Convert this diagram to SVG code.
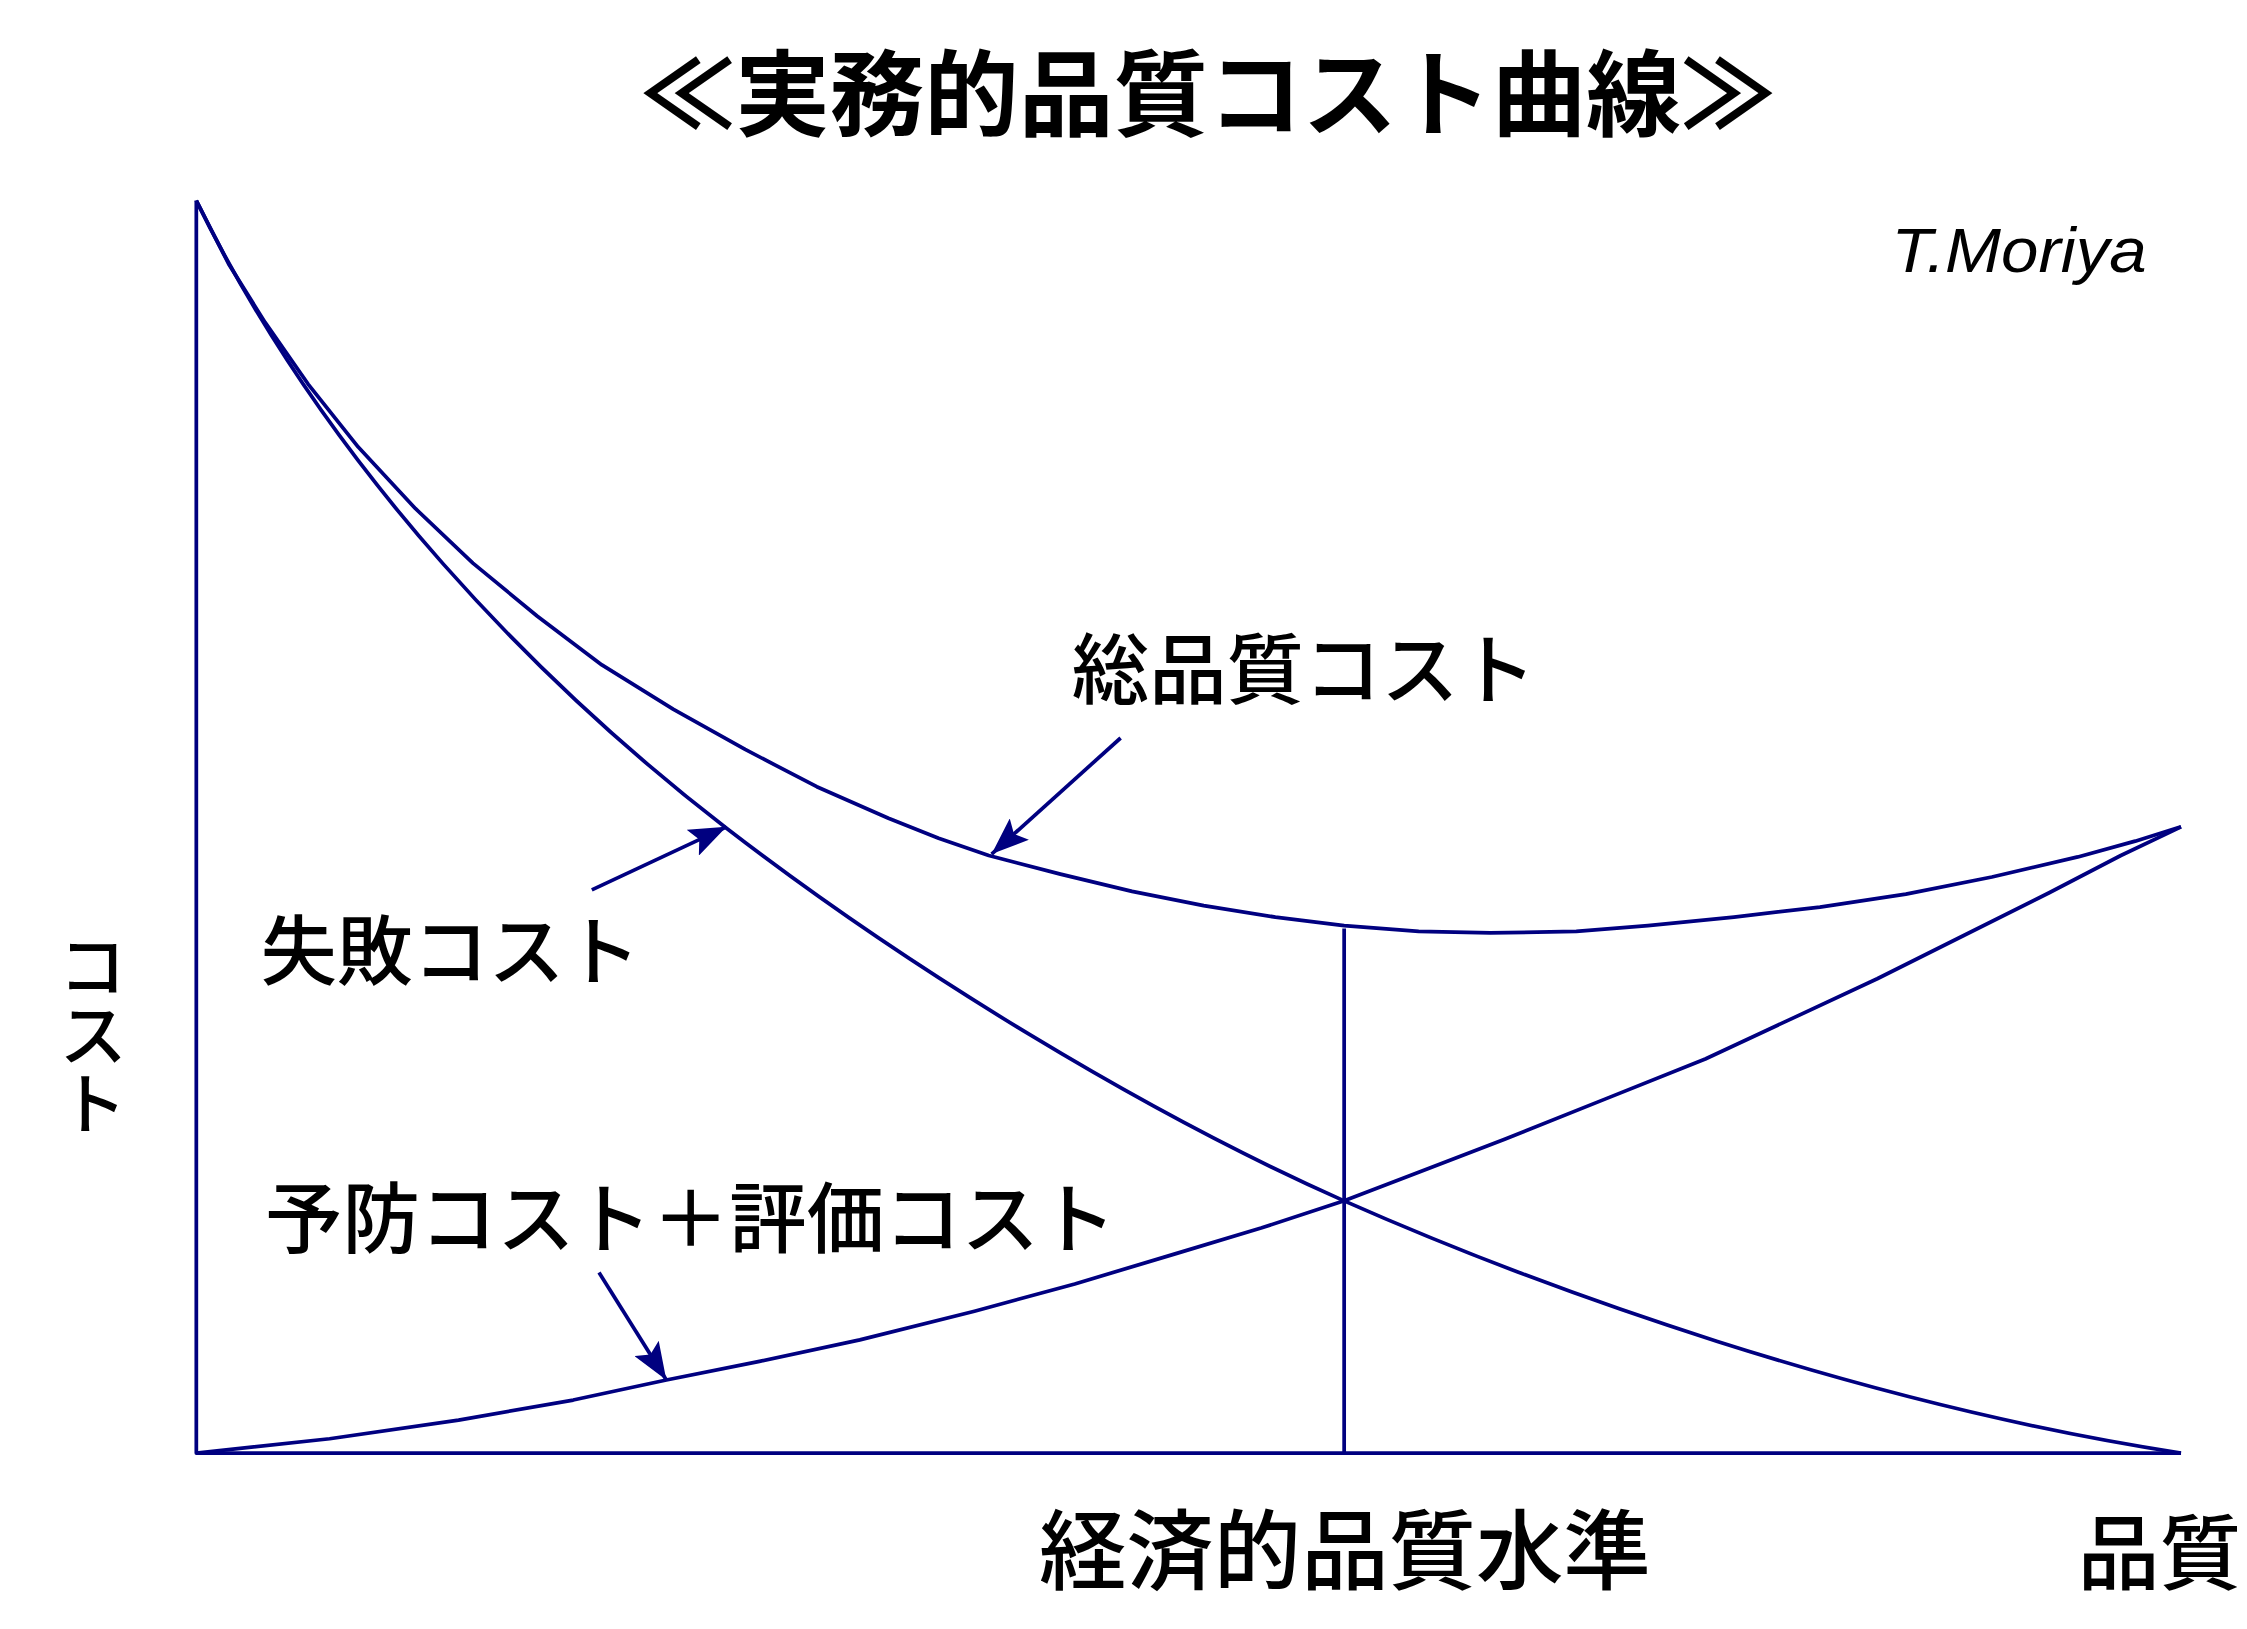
<svg xmlns="http://www.w3.org/2000/svg" width="2247" height="1629" viewBox="0 0 2247 1629">
<defs>
<style>
.c{fill:none;stroke:#000080;stroke-width:2.6;stroke-linejoin:round}
.t{font-family:"Noto Sans CJK JP","Liberation Sans",sans-serif;fill:#000;font-weight:500}
</style>
<marker id="ah" viewBox="0 0 26 20" refX="26" refY="10" markerWidth="26" markerHeight="20" markerUnits="userSpaceOnUse" orient="auto"><path d="M0,0 L26,10 L0,20 L5,10 Z" fill="#000080"/></marker>
</defs>
<rect width="2247" height="1629" fill="#fff"/>
<g transform="scale(1.433)">
<g id="connectors">
<polyline class="c" points="137,140 137,1014 1522,1014"/>
<line class="c" x1="938" y1="648" x2="938" y2="1014"/>
<path id="failure" class="c" d="M137,140 C230,330 380,480 507,578 S800,777 938,838 S1300,980 1522,1014"/>
<polyline id="total" class="c" points="137,140 160,185 185,225 215,268 250,312 290,355 330,393 375,430 420,464 470,495 520,523 570,549 620,571 655,585 690,597 740,610 790,622 840,632 890,640 938,646 990,650 1040,651 1100,650 1150,646 1210,640 1270,633 1330,624 1390,612 1450,598 1490,587 1522,577"/>
<polyline id="prevention" class="c" points="137,1014 230,1004 320,991 400,977 465,963 530,950 600,935 680,915 750,896 820,875 880,857 938,838 990,818 1050,795 1120,767 1190,739 1250,711 1310,683 1370,653 1430,623 1480,597 1522,577"/>
<line class="c" x1="782" y1="515" x2="692" y2="596" marker-end="url(#ah)"/>
<line class="c" x1="413" y1="621" x2="507" y2="577" marker-end="url(#ah)"/>
<line class="c" x1="418" y1="888" x2="465" y2="963" marker-end="url(#ah)"/>
</g>
<g id="title"><text class="t" x="843" y="90" font-size="66" text-anchor="middle" style="font-weight:bold">≪実務的品質コスト曲線≫</text></g>
<g id="author"><text x="1498" y="190" font-family="Liberation Sans,sans-serif" font-style="italic" font-size="44" text-anchor="end" textLength="178" lengthAdjust="spacingAndGlyphs">T.Moriya</text></g>
<g id="total-label"><text class="t" x="748" y="487" font-size="54">総品質コスト</text></g>
<g id="failure-label"><text class="t" x="182" y="683" font-size="53">失敗コスト</text></g>
<g id="prevention-label"><text class="t" x="185" y="870" font-size="54">予防コスト＋評価コスト</text></g>
<g id="y-label"><text class="t" x="65" y="650" font-size="48" writing-mode="tb">コスト</text></g>
<g id="x-label"><text class="t" x="725" y="1105" font-size="61">経済的品質水準</text></g>
<g id="x-axis-label"><text class="t" x="1450" y="1105" font-size="57">品質</text></g>
</g>
</svg>
